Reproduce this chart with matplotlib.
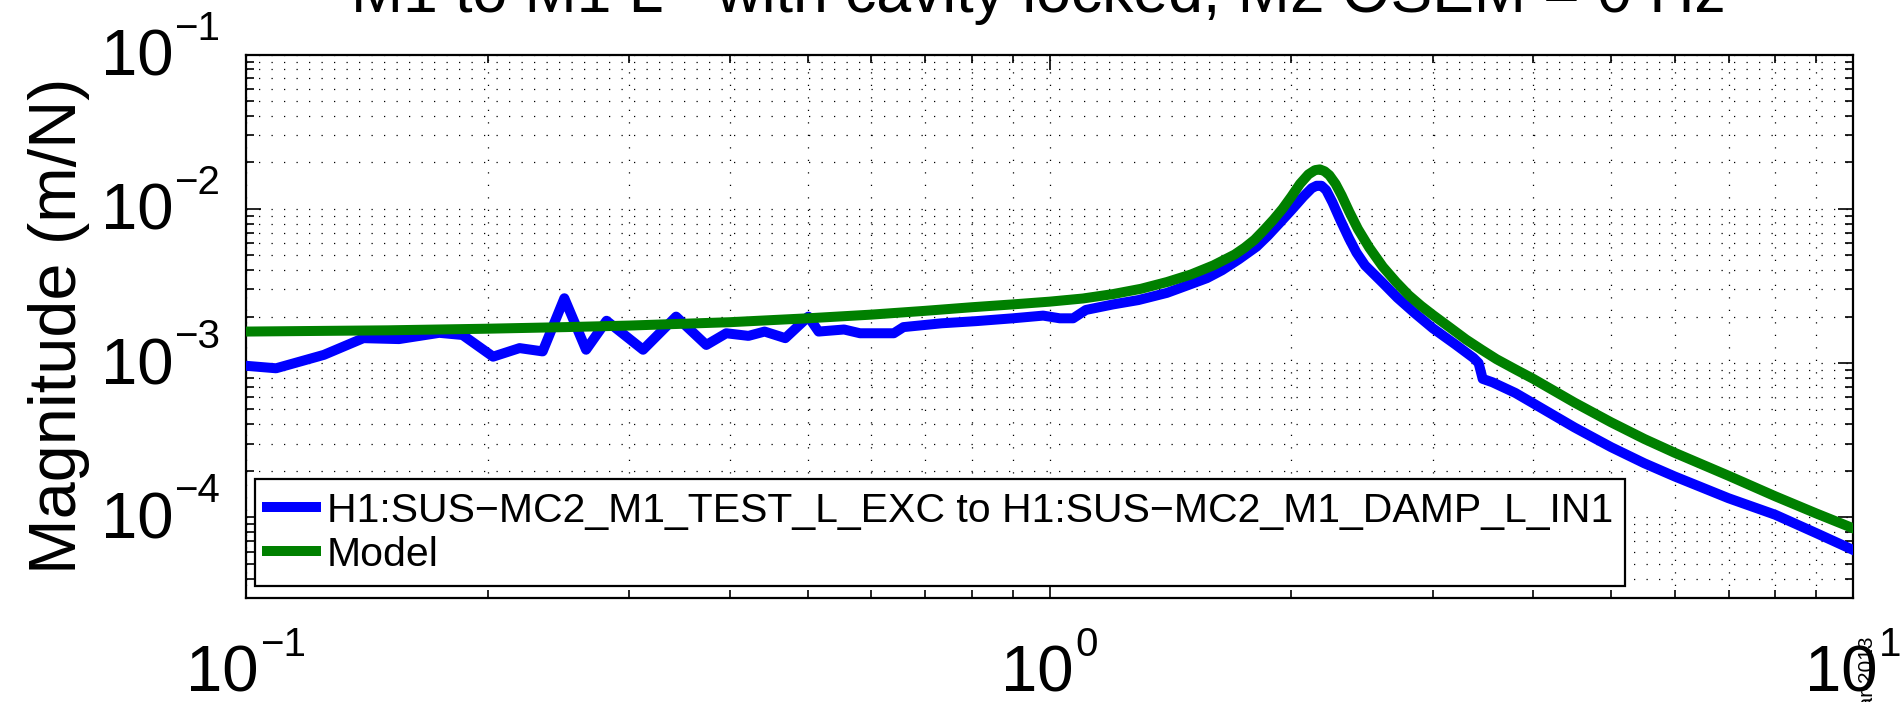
import numpy as np
import matplotlib
matplotlib.use('Agg')
import matplotlib.pyplot as plt
from matplotlib.ticker import LogLocator, NullFormatter
from matplotlib.transforms import ScaledTranslation, blended_transform_factory

# ---- data ----
freq_meas = [0.100, 0.109, 0.125, 0.140, 0.155, 0.174, 0.186, 0.203, 0.219, 0.234,
             0.249, 0.265, 0.281, 0.312, 0.343, 0.374, 0.396, 0.422, 0.442, 0.469,
             0.501, 0.516, 0.555, 0.581, 0.640, 0.658, 0.734, 0.811, 0.900, 0.982,
             1.03, 1.07, 1.11, 1.20, 1.29, 1.40, 1.49, 1.57, 1.64, 1.72,
             1.81, 1.87, 1.93, 2.00, 2.07, 2.12, 2.15, 2.18, 2.21, 2.25,
             2.30, 2.36, 2.41, 2.47, 2.60, 2.71, 2.85, 3.00, 3.20, 3.37,
             3.42, 3.46, 3.56, 3.80, 4.00, 4.50, 5.00, 5.50, 6.00, 7.00,
             8.00, 9.00, 10.0]
mag_meas = [9.6e-4, 9.25e-4, 1.13e-3, 1.45e-3, 1.43e-3, 1.57e-3, 1.52e-3, 1.10e-3, 1.25e-3, 1.19e-3,
            2.63e-3, 1.22e-3, 1.88e-3, 1.22e-3, 2.0e-3, 1.31e-3, 1.56e-3, 1.50e-3, 1.60e-3, 1.45e-3,
            2.0e-3, 1.60e-3, 1.65e-3, 1.56e-3, 1.56e-3, 1.71e-3, 1.81e-3, 1.87e-3, 1.95e-3, 2.03e-3,
            1.95e-3, 1.95e-3, 2.21e-3, 2.40e-3, 2.56e-3, 2.85e-3, 3.21e-3, 3.55e-3, 4.0e-3, 4.7e-3,
            5.68e-3, 6.7e-3, 8.0e-3, 9.8e-3, 1.20e-2, 1.36e-2, 1.41e-2, 1.41e-2, 1.32e-2, 1.10e-2,
            8.5e-3, 6.4e-3, 5.2e-3, 4.3e-3, 3.3e-3, 2.65e-3, 2.1e-3, 1.68e-3, 1.32e-3, 1.08e-3,
            1.0e-3, 7.9e-4, 7.5e-4, 6.4e-4, 5.48e-4, 3.83e-4, 2.85e-4, 2.24e-4, 1.84e-4, 1.33e-4,
            1.04e-4, 7.9e-5, 6.15e-5]

freq_model = [0.10, 0.15, 0.20, 0.25, 0.30, 0.40, 0.50, 0.60, 0.70, 0.80,
              0.90, 1.00, 1.10, 1.20, 1.30, 1.40, 1.50, 1.60, 1.70, 1.75,
              1.80, 1.85, 1.90, 1.95, 2.00, 2.05, 2.10, 2.14, 2.17, 2.20,
              2.23, 2.27, 2.31, 2.36, 2.42, 2.50, 2.60, 2.70, 2.80, 2.90,
              3.00, 3.15, 3.30, 3.45, 3.60, 3.80, 4.00, 4.50, 5.00, 5.50,
              6.00, 7.00, 8.00, 9.00, 10.0]
mag_model = [1.60e-3, 1.63e-3, 1.67e-3, 1.71e-3, 1.75e-3, 1.84e-3, 1.95e-3, 2.06e-3, 2.18e-3, 2.30e-3,
             2.40e-3, 2.50e-3, 2.62e-3, 2.80e-3, 3.03e-3, 3.35e-3, 3.75e-3, 4.30e-3, 5.05e-3, 5.6e-3,
             6.3e-3, 7.3e-3, 8.5e-3, 1.0e-2, 1.2e-2, 1.45e-2, 1.67e-2, 1.78e-2, 1.80e-2, 1.75e-2,
             1.65e-2, 1.45e-2, 1.22e-2, 9.6e-3, 7.4e-3, 5.6e-3, 4.2e-3, 3.35e-3, 2.75e-3, 2.35e-3,
             2.05e-3, 1.70e-3, 1.42e-3, 1.22e-3, 1.06e-3, 9.1e-4, 7.9e-4, 5.55e-4, 4.13e-4, 3.22e-4,
             2.62e-4, 1.86e-4, 1.37e-4, 1.06e-4, 8.5e-5]

title_text = "M1 to M1 L - with cavity locked, M2 OSEM = 0 Hz"
meas_label = "H1:SUS\u2212MC2_M1_TEST_L_EXC to H1:SUS\u2212MC2_M1_DAMP_L_IN1"
model_label = "Model"
ylabel_text = "Magnitude (m/N)"
stamp_text = "17-Mar-2013"

# ---- styling ----
plt.rcParams['font.family'] = ['Liberation Sans', 'DejaVu Sans']

W, H = 1902, 702
fig = plt.figure(figsize=(W / 100, H / 100), dpi=100)
L, R, T, B = 246, 1853, 54.5, 598
ax = fig.add_axes([L / W, 1 - B / H, (R - L) / W, (B - T) / H])

ax.loglog(freq_meas, mag_meas, color=(0, 0, 1), lw=7.2, solid_joinstyle='round',
          label=meas_label, zorder=3)
ax.loglog(freq_model, mag_model, color=(0, 0.5, 0), lw=7.2, solid_joinstyle='round',
          label=model_label, zorder=4)

ax.set_xlim(0.1, 10)
ax.set_ylim(3e-5, 0.1)
for axis in (ax.xaxis, ax.yaxis):
    axis.set_major_locator(LogLocator(base=10, numticks=20))
    axis.set_minor_locator(LogLocator(base=10, subs=np.arange(2, 10), numticks=200))
    axis.set_minor_formatter(NullFormatter())

ax.grid(True, which='both', color='black', linestyle=(0, (1, 9)), linewidth=0.9)
ax.tick_params(which='both', direction='in', top=True, right=True, width=1.2,
               labelleft=False, labelbottom=False)
ax.tick_params(which='major', length=11)
ax.tick_params(which='minor', length=6)
for s in ax.spines.values():
    s.set_linewidth(1.6)

ax.set_ylabel(ylabel_text, fontsize=48)
ax.yaxis.set_label_coords(-0.097, 0.5)

# ---- MATLAB-style tick labels: "10" with a raised exponent ----
BASE_FS, EXP_FS = 47, 29


def off(dx, dy):
    return ScaledTranslation(dx / 100, dy / 100, fig.dpi_scale_trans)


ytr = blended_transform_factory(ax.transAxes, ax.transData)
xtr = blended_transform_factory(ax.transData, ax.transAxes)
ylo, yhi = ax.get_ylim()
xlo, xhi = ax.get_xlim()
renderer = fig.canvas.get_renderer()
for v in ax.get_yticks():
    if ylo * 0.999 <= v <= yhi * 1.001:
        e = int(round(np.log10(v)))
        ax.text(0, v, "10", transform=ytr + off(-73, -21), ha='right', va='baseline',
                fontsize=BASE_FS)
        ax.text(0, v, "\u2212%d" % abs(e) if e < 0 else "%d" % e,
                transform=ytr + off(-72, 15), ha='left', va='baseline', fontsize=EXP_FS)
for v in ax.get_xticks():
    if xlo * 0.999 <= v <= xhi * 1.001:
        e = int(round(np.log10(v)))
        es = "\u2212%d" % abs(e) if e < 0 else "%d" % e
        tb = ax.text(v, 0, "10", transform=xtr, ha='left', va='baseline', fontsize=BASE_FS)
        te = ax.text(v, 0, es, transform=xtr, ha='left', va='baseline', fontsize=EXP_FS)
        wb = tb.get_window_extent(renderer).width
        we = te.get_window_extent(renderer).width
        tot = wb + 2 + we
        tb.set_transform(xtr + off(-tot / 2, -94))
        te.set_transform(xtr + off(-tot / 2 + wb + 2, -58))

leg = ax.legend(loc='lower left', bbox_to_anchor=(0.0056, 0.022), borderaxespad=0,
                fontsize=29.5, frameon=True, fancybox=False, edgecolor='black',
                framealpha=1, handlelength=1.2, handletextpad=0.25, borderpad=0.3,
                labelspacing=0.15)
leg.get_frame().set_linewidth(1.6)

fig.text((L + R) / 2 / W - 0.006, 1 - 12 / H, title_text, ha='center', va='baseline',
         fontsize=45)
fig.text(1866 / W, 1 - 634 / H, stamp_text, rotation=90, ha='center', va='top',
         fontsize=15)

fig.savefig('out.png', dpi=100)
